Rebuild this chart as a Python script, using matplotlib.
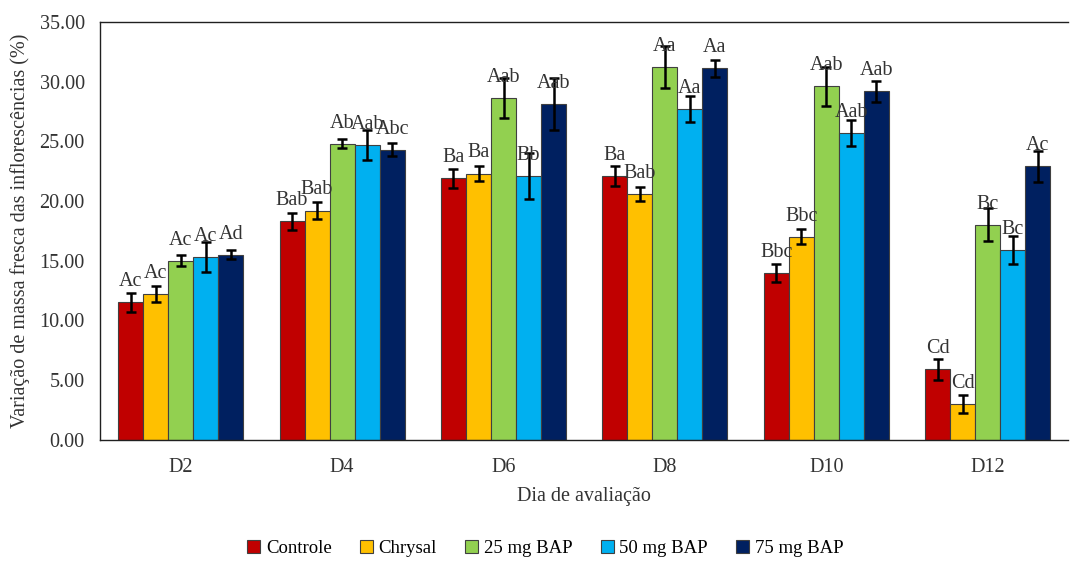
import numpy as np
import matplotlib.pyplot as plt

plt.rcParams['font.family'] = ['Liberation Serif', 'DejaVu Serif']

# dias de avaliacao e tratamentos
dias = ['D2', 'D4', 'D6', 'D8', 'D10', 'D12']
tratamentos = ['Controle', 'Chrysal', '25 mg BAP', '50 mg BAP', '75 mg BAP']
cores = ['#C00000', '#FFC000', '#92D050', '#00B0F0', '#002060']

# variacao de massa fresca (%) por tratamento, um valor por dia
controle = [11.5, 18.3, 21.9, 22.1, 14.0, 5.9]
chrysal = [12.2, 19.2, 22.3, 20.6, 17.0, 3.0]
bap25 = [15.0, 24.8, 28.6, 31.2, 29.6, 18.0]
bap50 = [15.3, 24.7, 22.1, 27.7, 25.7, 15.9]
bap75 = [15.5, 24.3, 28.1, 31.1, 29.2, 22.9]

# erro padrao
err_controle = [0.78, 0.73, 0.80, 0.84, 0.75, 0.88]
err_chrysal = [0.65, 0.68, 0.64, 0.61, 0.63, 0.77]
err_bap25 = [0.46, 0.36, 1.68, 1.77, 1.66, 1.38]
err_bap50 = [1.24, 1.28, 1.90, 1.06, 1.10, 1.17]
err_bap75 = [0.36, 0.56, 2.19, 0.70, 0.88, 1.31]

# letras do teste de medias
let_controle = ['Ac', 'Bab', 'Ba', 'Ba', 'Bbc', 'Cd']
let_chrysal = ['Ac', 'Bab', 'Ba', 'Bab', 'Bbc', 'Cd']
let_bap25 = ['Ac', 'Ab', 'Aab', 'Aa', 'Aab', 'Bc']
let_bap50 = ['Ac', 'Aab', 'Bb', 'Aa', 'Aab', 'Bc']
let_bap75 = ['Ad', 'Abc', 'Aab', 'Aa', 'Aab', 'Ac']

series = [controle, chrysal, bap25, bap50, bap75]
erros = [err_controle, err_chrysal, err_bap25, err_bap50, err_bap75]
letras = [let_controle, let_chrysal, let_bap25, let_bap50, let_bap75]

cor_txt = '#333333'

fig = plt.figure(figsize=(10.7, 5.61), dpi=100)
ax = fig.add_axes([0.0935, 0.216, 0.905, 0.745])

x = np.arange(len(dias))
larg = 0.155
for k in range(5):
    pos = x + (k - 2) * larg
    ax.bar(pos, series[k], larg, color=cores[k], edgecolor='#404040',
           linewidth=0.8, label=tratamentos[k], zorder=2)
    ax.errorbar(pos, series[k], yerr=erros[k], fmt='none', ecolor='black',
                elinewidth=1.8, capsize=3.5, capthick=1.8, zorder=3)
    for p, v, t in zip(pos, series[k], letras[k]):
        ax.annotate(t, (p, v), xytext=(0, 8), textcoords='offset points',
                    ha='center', va='bottom', fontsize=14.5, color=cor_txt,
                    zorder=4)

ax.set_xlim(-0.5, 5.5)
ax.set_ylim(0, 35)
ax.set_yticks(np.arange(0, 35.1, 5))
ax.set_yticklabels(['%.2f' % v for v in np.arange(0, 35.1, 5)])
ax.set_xticks(x)
ax.set_xticklabels(dias)
ax.tick_params(axis='both', length=0, labelsize=14.5, colors=cor_txt)
ax.tick_params(axis='x', pad=13)
ax.tick_params(axis='y', pad=11)

for s in ax.spines.values():
    s.set_color('#202020')
    s.set_linewidth(1.0)
ax.spines['right'].set_visible(False)

ax.set_ylabel('Variação de massa fresca das inflorescências (%)', fontsize=14.5,
              color=cor_txt, labelpad=7)
ax.set_xlabel('Dia de avaliação', fontsize=14.5, color=cor_txt, labelpad=7)

ax.legend(loc='upper center', bbox_to_anchor=(0.46, -0.2), ncol=5,
          frameon=False, fontsize=13.5, handlelength=0.7, handleheight=0.7,
          handletextpad=0.3, columnspacing=1.5)

fig.savefig('out.png', dpi=100)
